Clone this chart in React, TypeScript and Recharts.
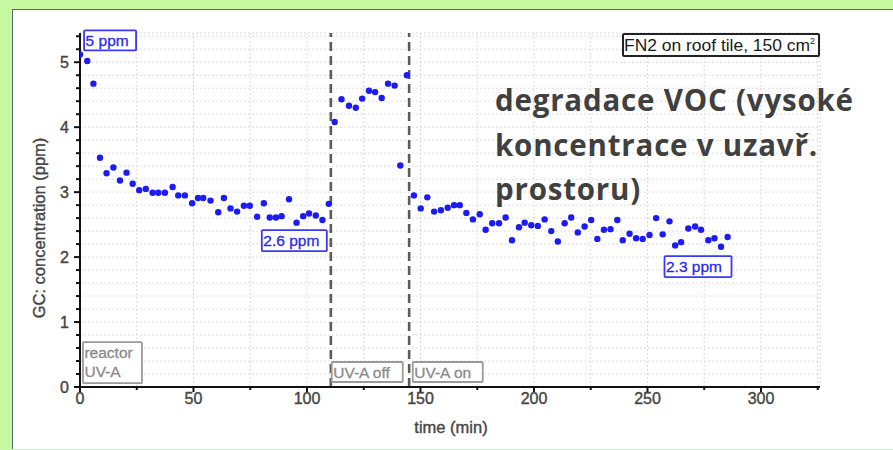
import React from 'react';
import {
  ScatterChart,
  Scatter,
  XAxis,
  YAxis,
  CartesianGrid,
  ReferenceLine,
  ReferenceDot,
} from 'recharts';

// ---- data ----
const timeMin = [
  0, 3.2, 5.9, 8.8, 11.7, 14.7, 17.6, 20.5, 23.2, 26.1, 29, 32, 34.5, 37.4, 40.8, 43.3, 46.2,
  49.4, 52, 54.3, 57.5, 60.9, 63.4, 66.3, 69.2, 72.2, 74.8, 78, 81, 83.6, 86.3, 88.8, 92.1,
  95.4, 98.3, 100.9, 103.9, 106.8, 109.6,
  112.2, 115.2, 118.5, 121.5, 124.3, 127.3, 130, 132.9, 135.7, 138.6, 141.1, 144,
  147.1, 150.1, 153, 156, 159, 162, 164.8, 167.3, 170.2, 173.1, 176.1, 178.7, 181.6, 184.6,
  187.5, 190.3, 193.4, 195.9, 198.8, 201.7, 204.7, 207.6, 210.5, 213.5, 216.4, 219.3, 222.3,
  225.2, 227.9, 230.8, 233.7, 236.7, 239.1, 242.1, 245, 247.9, 250.9, 253.8, 256.7, 259.7,
  262.2, 264.8, 268, 271, 273.6, 276.8, 279.5, 282.4, 285.3,
];
const concPpm = [
  5.12, 5.02, 4.67, 3.53, 3.29, 3.38, 3.18, 3.3, 3.13, 3.03, 3.05, 2.99, 2.99, 2.99, 3.08, 2.95, 2.95,
  2.83, 2.91, 2.91, 2.87, 2.69, 2.91, 2.75, 2.7, 2.79, 2.79, 2.62, 2.83, 2.61, 2.61, 2.63, 2.89,
  2.53, 2.63, 2.67, 2.64, 2.57, 2.82,
  4.08, 4.43, 4.33, 4.3, 4.44, 4.56, 4.54, 4.45, 4.67, 4.64, 3.41, 4.8,
  2.95, 2.75, 2.92, 2.7, 2.72, 2.76, 2.8, 2.8, 2.68, 2.58, 2.66, 2.42, 2.52, 2.52,
  2.61, 2.26, 2.46, 2.53, 2.49, 2.48, 2.58, 2.4, 2.24, 2.52, 2.61, 2.38, 2.47,
  2.57, 2.28, 2.42, 2.43, 2.57, 2.26, 2.36, 2.29, 2.28, 2.34, 2.6, 2.35, 2.55,
  2.18, 2.23, 2.44, 2.47, 2.42, 2.26, 2.29, 2.16, 2.31,
];
const xTicks = [0, 25, 50, 75, 100, 125, 150, 175, 200, 225, 250, 275, 300, 325];
const yTicks = [
  0, 0.2, 0.4, 0.6, 0.8, 1, 1.2, 1.4, 1.6, 1.8, 2, 2.2, 2.4, 2.6, 2.8, 3, 3.2, 3.4, 3.6, 3.8,
  4, 4.2, 4.4, 4.6, 4.8, 5, 5.2, 5.4,
];
const switchTimes = [110.5, 145];

// annotations (anchor = top-left corner in data units)
const noteLabels = ['5 ppm', '2.6 ppm', '2.3 ppm', 'reactor|UV-A', 'UV-A off', 'UV-A on'];
const noteTime = [1.8, 80.1, 257.5, 1.3, 110.9, 146.6];
const noteConc = [5.49, 2.415, 2.015, 0.69, 0.385, 0.385];

const titleLines = ['degradace VOC (vysoké', 'koncentrace v uzavř.', 'prostoru)'];
const sampleLabel = 'FN2 on roof tile, 150 cm';
const yLabel = 'GC: concentration (ppm)';
const xLabel = 'time (min)';

const data = timeMin.map((t, i) => ({ t, c: concPpm[i] }));

// ---- styles ----
const BLUE = '#2a2ae6';
const noteStyle: Record<string, { w: number; h: number; color: string; border: string }> = {
  '5 ppm': { w: 52, h: 20, color: BLUE, border: '#3a3af2' },
  '2.6 ppm': { w: 65, h: 21, color: BLUE, border: '#3a3af2' },
  '2.3 ppm': { w: 67, h: 21, color: BLUE, border: '#3a3af2' },
  'reactor|UV-A': { w: 59, h: 41, color: '#8a8a8a', border: '#9a9a9a' },
  'UV-A off': { w: 71, h: 20, color: '#8a8a8a', border: '#9a9a9a' },
  'UV-A on': { w: 70, h: 20, color: '#8a8a8a', border: '#9a9a9a' },
};

const FONT = '"Liberation Sans", Arial, sans-serif';
const LABEL_COLOR = '#464646';

const XTick = (p: any) => {
  const v = p.payload.value;
  const major = v % 50 === 0;
  return (
    <g>
      <line x1={p.x} x2={p.x} y1={p.y} y2={p.y + (major ? 5 : 3)} stroke="#111" strokeWidth={2} />
      {major && (
        <text x={p.x} y={p.y + 17} textAnchor="middle" fontFamily={FONT} fontSize={16} fill={LABEL_COLOR} stroke={LABEL_COLOR} strokeWidth={0.4}>
          {v}
        </text>
      )}
    </g>
  );
};

const YTick = (p: any) => {
  const v = p.payload.value;
  const major = Math.abs(v - Math.round(v)) < 1e-6;
  return (
    <g>
      <line x1={p.x} x2={p.x - (major ? 6 : 4)} y1={p.y} y2={p.y} stroke="#111" strokeWidth={2} />
      {major && (
        <text x={p.x - 11} y={p.y} dy="0.36em" textAnchor="end" fontFamily={FONT} fontSize={16} fill={LABEL_COLOR} stroke={LABEL_COLOR} strokeWidth={0.4}>
          {v}
        </text>
      )}
    </g>
  );
};

const makeNote = (label: string) => (p: any) => {
  const s = noteStyle[label];
  const lines = label.split('|');
  const x = p.cx;
  const y = p.cy;
  return (
    <g>
      <rect x={x} y={y} width={s.w} height={s.h} fill="#fff" stroke={s.border} strokeWidth={1.8} rx={1} />
      {lines.map((ln, i) => (
        <text key={i} x={x + 1.5} y={y + 16 + i * 19} fontFamily={FONT} fontSize={15.5} fill={s.color} stroke={s.color} strokeWidth={0.3}>
          {ln}
        </text>
      ))}
    </g>
  );
};

const Dot = (p: any) => <circle cx={p.cx} cy={p.cy} r={3.2} fill="#1b1bf2" />;

export default function App() {
  return (
    <div style={{ position: 'absolute', left: 0, top: 0, width: 893, height: 450, background: '#c6f8a2', overflow: 'hidden' }}>
      <div
        style={{
          position: 'absolute',
          left: 12,
          top: 9,
          width: 881,
          height: 439,
          background: '#fff',
          borderTop: '1.5px solid #5a6876',
          borderLeft: '1.5px solid #5a6876',
        }}
      />
      <div style={{ position: 'absolute', left: 0, top: 0 }}>
        <ScatterChart width={893} height={450} margin={{ top: 33, right: 73, bottom: 33, left: 40 }}>
          <CartesianGrid stroke="#dcdcdc" strokeDasharray="2 2" strokeWidth={1} />
          <XAxis
            type="number"
            dataKey="t"
            domain={[0, 326]}
            ticks={xTicks}
            interval={0}
            allowDataOverflow
            tickSize={0}
            tickMargin={0}
            tickLine={false}
            tick={<XTick />}
            axisLine={{ stroke: '#111', strokeWidth: 2 }}
            height={30}
          />
          <YAxis
            type="number"
            dataKey="c"
            domain={[0, 5.45]}
            ticks={yTicks}
            interval={0}
            allowDataOverflow
            tickSize={0}
            tickMargin={0}
            tickLine={false}
            tick={<YTick />}
            axisLine={{ stroke: '#111', strokeWidth: 2 }}
            width={40}
          />
          {switchTimes.map((t) => (
            <ReferenceLine key={t} x={t} stroke="#5c5c5c" strokeWidth={2.6} strokeDasharray="9 5" />
          ))}
          <Scatter data={data} isAnimationActive={false} shape={Dot} />
          {noteLabels.map((lab, i) => (
            <ReferenceDot
              key={lab}
              x={noteTime[i]}
              y={noteConc[i]}
              r={0}
              ifOverflow="visible"
              shape={makeNote(lab)}
            />
          ))}
        </ScatterChart>
      </div>
      <svg width={893} height={450} style={{ position: 'absolute', left: 0, top: 0, pointerEvents: 'none' }}>
        <text
          transform="translate(45,228) rotate(-90)"
          textAnchor="middle"
          fontFamily={FONT}
          fontSize={16.5}
          fill={LABEL_COLOR}
          stroke={LABEL_COLOR}
          strokeWidth={0.4}
        >
          {yLabel}
        </text>
        <text x={451} y={433} textAnchor="middle" fontFamily={FONT} fontSize={16.5} fill={LABEL_COLOR} stroke={LABEL_COLOR} strokeWidth={0.4}>
          {xLabel}
        </text>
        <rect x={623} y={34} width={196} height={22} fill="#fff" stroke="#222" strokeWidth={2} rx={1} />
        <text x={624} y={51} fontFamily={FONT} fontSize={16.5} fill="#1a1a1a" textLength={186} lengthAdjust="spacingAndGlyphs">
          {sampleLabel}
        </text>
        <text x={810} y={44} fontFamily={FONT} fontSize={9} fill="#1a1a1a">
          2
        </text>
        {titleLines.map((ln, i) => (
          <text
            key={i}
            x={495}
            y={111 + i * 44.5}
            fontFamily='"Open Sans", sans-serif'
            fontWeight={700}
            fontSize={29.5}
            letterSpacing={0.8}
            fill="#404040"
          >
            {ln}
          </text>
        ))}
      </svg>
    </div>
  );
}
